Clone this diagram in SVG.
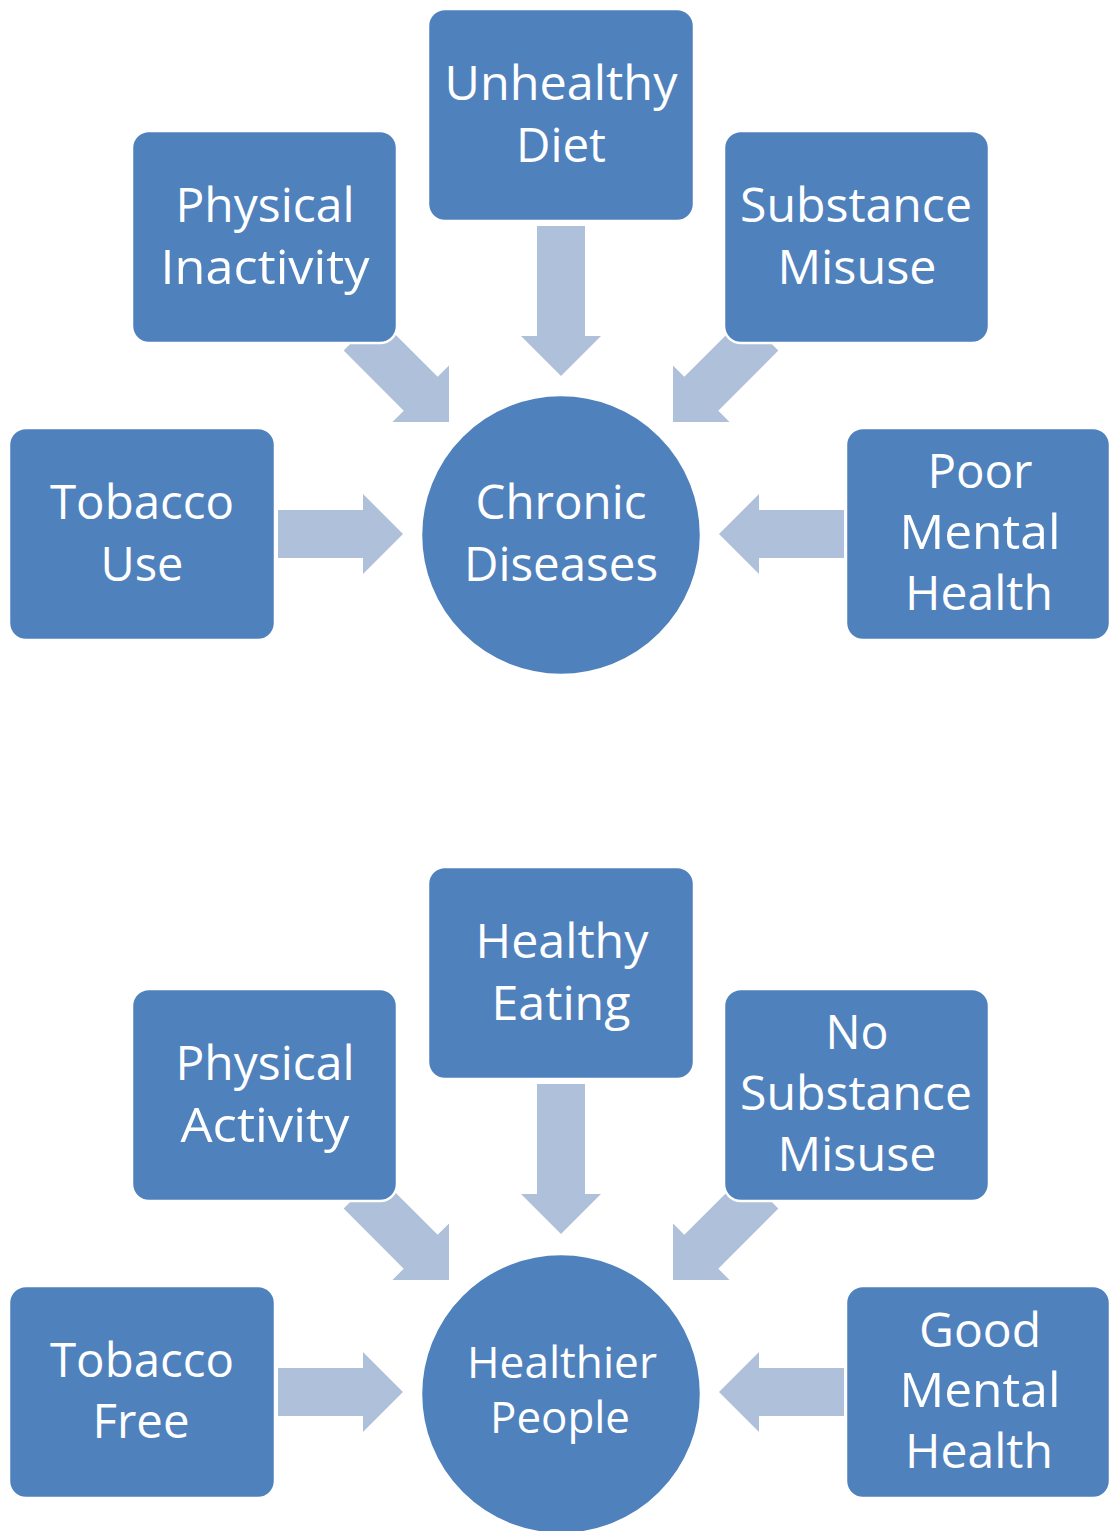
<svg xmlns="http://www.w3.org/2000/svg" xmlns:xlink="http://www.w3.org/1999/xlink" width="1110" height="1531" viewBox="0 0 1110 1531">
<style>
.box{fill:#4F81BD;stroke:#FFFFFF;stroke-width:2.5}
.arrow{fill:#AFC0DB}
.lbl{font-family:"Open Sans","Liberation Sans",sans-serif;font-size:47px;fill:#FFFFFF;text-anchor:middle}
.lbls{font-family:"Open Sans","Liberation Sans",sans-serif;font-size:43px;fill:#FFFFFF;text-anchor:middle}
</style>
<defs>
<path id="arrH" d="M0,0 L-40,-40 L-40,-24 L-125,-24 L-125,24 L-40,24 L-40,40 Z"/>
<path id="arrV" d="M0,0 L-40,-40 L-40,-24 L-150,-24 L-150,24 L-40,24 L-40,40 Z"/>
</defs>
<rect width="1110" height="1531" fill="#FFFFFF"/>
<g id="connectors" class="arrow">
<use xlink:href="#arrV" transform="translate(561,376) rotate(90)"/>
<use xlink:href="#arrH" transform="translate(403,534)"/>
<use xlink:href="#arrH" transform="translate(719,534) rotate(180)"/>
<use xlink:href="#arrH" transform="translate(449,422) rotate(45)"/>
<use xlink:href="#arrH" transform="translate(673,422) rotate(135)"/>
<use xlink:href="#arrV" transform="translate(561,1234) rotate(90)"/>
<use xlink:href="#arrH" transform="translate(403,1392)"/>
<use xlink:href="#arrH" transform="translate(719,1392) rotate(180)"/>
<use xlink:href="#arrH" transform="translate(449,1280) rotate(45)"/>
<use xlink:href="#arrH" transform="translate(673,1280) rotate(135)"/>
</g>
<g id="unhealthy-diet">
<rect class="box" x="428" y="9" width="266" height="212" rx="17"/>
<text class="lbl" x="561" y="100" textLength="233" lengthAdjust="spacingAndGlyphs">Unhealthy</text>
<text class="lbl" x="561" y="162" textLength="90" lengthAdjust="spacingAndGlyphs">Diet</text>
</g>
<g id="physical-inactivity">
<rect class="box" x="132" y="131" width="265" height="212" rx="17"/>
<text class="lbl" x="265" y="222" textLength="179" lengthAdjust="spacingAndGlyphs">Physical</text>
<text class="lbl" x="265" y="284" textLength="209" lengthAdjust="spacingAndGlyphs">Inactivity</text>
</g>
<g id="substance-misuse">
<rect class="box" x="724" y="131" width="265" height="212" rx="17"/>
<text class="lbl" x="856" y="222" textLength="232" lengthAdjust="spacingAndGlyphs">Substance</text>
<text class="lbl" x="857" y="284" textLength="159" lengthAdjust="spacingAndGlyphs">Misuse</text>
</g>
<g id="tobacco-use">
<rect class="box" x="9" y="428" width="266" height="212" rx="17"/>
<text class="lbl" x="142" y="519" textLength="184" lengthAdjust="spacingAndGlyphs">Tobacco</text>
<text class="lbl" x="142" y="581" textLength="83" lengthAdjust="spacingAndGlyphs">Use</text>
</g>
<g id="chronic-diseases">
<circle class="box" cx="561" cy="535" r="140"/>
<text class="lbl" x="561" y="519" textLength="171" lengthAdjust="spacingAndGlyphs">Chronic</text>
<text class="lbl" x="561" y="581" textLength="194" lengthAdjust="spacingAndGlyphs">Diseases</text>
</g>
<g id="poor-mental-health">
<rect class="box" x="846" y="428" width="264" height="212" rx="17"/>
<text class="lbl" x="980" y="488" textLength="105" lengthAdjust="spacingAndGlyphs">Poor</text>
<text class="lbl" x="980" y="549" textLength="161" lengthAdjust="spacingAndGlyphs">Mental</text>
<text class="lbl" x="979" y="610" textLength="148" lengthAdjust="spacingAndGlyphs">Health</text>
</g>
<g id="healthy-eating">
<rect class="box" x="428" y="867" width="266" height="212" rx="17"/>
<text class="lbl" x="562" y="958" textLength="173" lengthAdjust="spacingAndGlyphs">Healthy</text>
<text class="lbl" x="561" y="1020" textLength="139" lengthAdjust="spacingAndGlyphs">Eating</text>
</g>
<g id="physical-activity">
<rect class="box" x="132" y="989" width="265" height="212" rx="17"/>
<text class="lbl" x="265" y="1080" textLength="179" lengthAdjust="spacingAndGlyphs">Physical</text>
<text class="lbl" x="265" y="1142" textLength="169" lengthAdjust="spacingAndGlyphs">Activity</text>
</g>
<g id="no-substance-misuse">
<rect class="box" x="724" y="989" width="265" height="212" rx="17"/>
<text class="lbl" x="857" y="1049" textLength="63" lengthAdjust="spacingAndGlyphs">No</text>
<text class="lbl" x="856" y="1110" textLength="232" lengthAdjust="spacingAndGlyphs">Substance</text>
<text class="lbl" x="857" y="1171" textLength="159" lengthAdjust="spacingAndGlyphs">Misuse</text>
</g>
<g id="tobacco-free">
<rect class="box" x="9" y="1286" width="266" height="212" rx="17"/>
<text class="lbl" x="142" y="1377" textLength="184" lengthAdjust="spacingAndGlyphs">Tobacco</text>
<text class="lbl" x="141" y="1438" textLength="97" lengthAdjust="spacingAndGlyphs">Free</text>
</g>
<g id="healthier-people">
<circle class="box" cx="561" cy="1394" r="140"/>
<text class="lbls" x="562" y="1378" textLength="190" lengthAdjust="spacingAndGlyphs">Healthier</text>
<text class="lbls" x="560" y="1433" textLength="140" lengthAdjust="spacingAndGlyphs">People</text>
</g>
<g id="good-mental-health">
<rect class="box" x="846" y="1286" width="264" height="212" rx="17"/>
<text class="lbl" x="980" y="1347" textLength="122" lengthAdjust="spacingAndGlyphs">Good</text>
<text class="lbl" x="980" y="1407" textLength="161" lengthAdjust="spacingAndGlyphs">Mental</text>
<text class="lbl" x="979" y="1468" textLength="148" lengthAdjust="spacingAndGlyphs">Health</text>
</g>
</svg>
